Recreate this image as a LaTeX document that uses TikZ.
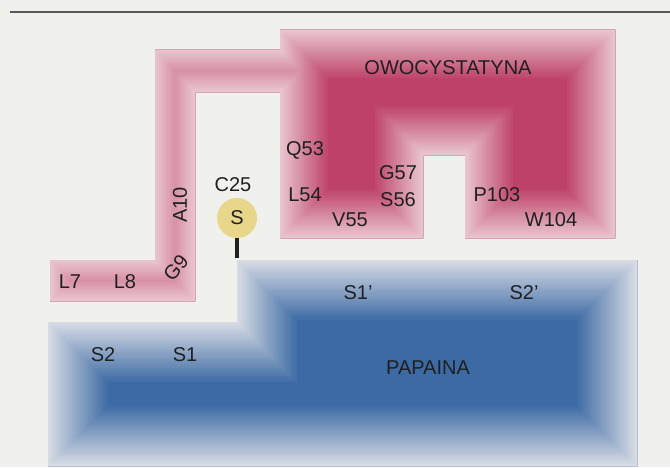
\documentclass[tikz,border=0pt]{standalone}
\usepackage{fontspec}
\setmainfont{Liberation Sans}
\definecolor{paper}{RGB}{240,240,236}
\definecolor{rededge}{RGB}{232,196,206}
\definecolor{redcore}{RGB}{190,66,104}
\definecolor{blueedge}{RGB}{214,219,228}
\definecolor{bluecore}{RGB}{60,106,164}
\definecolor{thiol}{RGB}{232,214,138}
\definecolor{ink}{RGB}{32,32,32}

% outlines of the two proteins (pixel units)
\newcommand{\cystpath}[1]{\path[#1] (50,260) -- (155,260) -- (155,50) -- (280,50) -- (280,30)
  -- (615,30) -- (615,238) -- (465,238) -- (465,155) -- (423,155) -- (423,238)
  -- (280,238) -- (280,92) -- (195,92) -- (195,301) -- (50,301) -- cycle;}
\newcommand{\papapath}[1]{\path[#1] (48,322) -- (237,322) -- (237,260) -- (637,260)
  -- (637,466) -- (48,466) -- cycle;}

\tikzset{
  resid/.style={inner sep=0pt, text=ink, font=\fontsize{15pt}{18pt}\selectfont},
}

\begin{document}
\begin{tikzpicture}[x=0.75pt, y=-0.75pt]
\useasboundingbox (0,0) rectangle (670,467);
\fill[paper] (0,0) rectangle (670,467);
\draw[line width=1.5pt, black!65] (10,12) -- (670,12);

% owocystatyna
\begin{scope}
\cystpath{clip}
\cystpath{fill=redcore}
\foreach \k in {24,23,...,1}{
  \pgfmathtruncatemacro{\mix}{(\k-1)*100/24}
  \cystpath{draw=redcore!\mix!rededge, line width=\k*3pt, line join=miter}
}
\end{scope}

% papaina
\begin{scope}
\papapath{clip}
\papapath{fill=bluecore}
\foreach \k in {30,29,...,1}{
  \pgfmathtruncatemacro{\mix}{(\k-1)*100/30}
  \papapath{draw=bluecore!\mix!blueedge, line width=\k*3pt, line join=miter}
}
\end{scope}

\node[resid] (owocyst) at (448,68) {OWOCYSTATYNA};
\node[resid] (q53) at (305,150) {Q53};
\node[resid] (l54) at (305,195) {L54};
\node[resid] (v55) at (350,220) {V55};
\node[resid] (g57) at (398,173) {G57};
\node[resid] (s56) at (398,200) {S56};
\node[resid] (p103) at (497,195) {P103};
\node[resid] (w104) at (551,220) {W104};
\node[resid] (c25) at (233,185) {C25};
\node[resid, rotate=90] (a10) at (180,205) {A10};
\node[resid, rotate=50] (g9) at (176,268) {G9};
\node[resid] (l7) at (70,282) {L7};
\node[resid] (l8) at (125,282) {L8};

\node[resid] (s2) at (103,355) {S2};
\node[resid] (s1) at (185,355) {S1};
\node[resid] (s1p) at (358,293) {S1'};
\node[resid] (s2p) at (524,293) {S2'};
\node[resid] (papaina) at (428,368) {PAPAINA};

\node[resid, circle, fill=thiol, minimum size=30pt] (s) at (237,218) {S};
\coordinate (stickend) at (237,258);
\draw[line width=3pt, ink] (s.south) -- (stickend);
\end{tikzpicture}
\end{document}
